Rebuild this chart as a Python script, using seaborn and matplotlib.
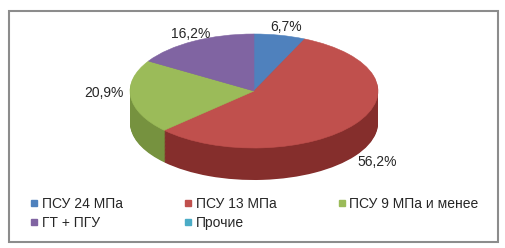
import matplotlib
matplotlib.use("Agg")
import matplotlib.pyplot as plt
from matplotlib.patches import Rectangle
from matplotlib.lines import Line2D
import seaborn as sns

# ---- data ----
categories = ["ПСУ 24 МПа", "ПСУ 13 МПа", "ПСУ 9 МПа и менее", "ГТ + ПГУ", "Прочие"]
shares = [6.7, 56.2, 20.9, 16.2, 0.0]
top_colors = ["#4F81BD", "#C0504D", "#9BBB59", "#8064A2", "#4BACC6"]
side_colors = ["#3A6190", "#852E2C", "#76923F", "#5E4A7A", "#3A8CA3"]

sns.set_theme(style="white")
plt.rcParams["font.family"] = ["Liberation Sans", "DejaVu Sans"]

W, H = 506, 248
fig = plt.figure(figsize=(W / 100, H / 100), dpi=100)
fig.patch.set_facecolor("white")

# pie geometry in pixels
cx, cy, rx, ry, depth_px = 254, 91, 124, 57, 32
ax = fig.add_axes([0, 0, 1, 1])

vals = [v for v in shares if v > 0]
tcols = [c for c, v in zip(top_colors, shares) if v > 0]
scols = [c for c, v in zip(side_colors, shares) if v > 0]

depth = depth_px / ry
n_layers = 40
for i in range(n_layers, 0, -1):
    off = depth * i / n_layers
    ax.pie(vals, colors=scols, startangle=90, counterclock=False,
           center=(0, -off), radius=1, frame=True,
           wedgeprops=dict(linewidth=0.6, edgecolor="none"))
wedges, _ = ax.pie(vals, colors=tcols, startangle=90, counterclock=False,
                   center=(0, 0), radius=1, frame=True,
                   wedgeprops=dict(linewidth=0.4))
for w, c in zip(wedges, tcols):
    w.set_edgecolor(c)
ax.set_xlim(-cx / rx, (W - cx) / rx)
ax.set_ylim((cy - H) / ry, cy / ry)
ax.set_aspect("auto")
ax.axis("off")

# data labels
label_pos = [(286, 27), (377, 162), (104, 93), (191, 34)]
for v, (lx, ly) in zip(vals, label_pos):
    fig.text(lx / W, 1 - ly / H, f"{v:.1f}%".replace(".", ","),
             ha="center", va="center", fontsize=10, color="#262626")

# legend (row-major order across 3 columns)
handles = [Line2D([], [], linestyle="none", marker="s", markersize=5,
                  markerfacecolor=c, markeredgecolor=c) for c in top_colors]
order = [0, 3, 1, 4, 2]
fig.legend([handles[i] for i in order], [categories[i] for i in order],
           loc="upper left", ncol=3,
           bbox_to_anchor=(30 / W, 1 - 197 / H), frameon=False,
           fontsize=10, handlelength=0.6, handletextpad=0.25,
           columnspacing=4.4, labelspacing=0.38, borderpad=0,
           borderaxespad=0, labelcolor="#262626")

# outer frame
fig.add_artist(Rectangle((9 / W, 1 - 242 / H), (498 - 9) / W, (242 - 11) / H,
                         transform=fig.transFigure, fill=False,
                         edgecolor="#8C8C8C", linewidth=1.5))

fig.savefig("out.png", dpi=100)
